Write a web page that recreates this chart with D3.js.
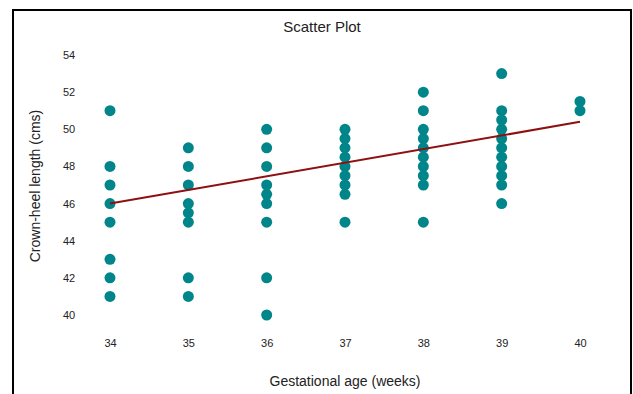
<!DOCTYPE html>
<html>
<head>
<meta charset="utf-8">
<script src="https://cdn.jsdelivr.net/npm/d3@7"></script>
<style>
  body { margin: 0; background: #fff; }
  svg text { font-family: "Liberation Sans", Arial, sans-serif; fill: #222; }
</style>
</head>
<body>
<div id="chart"></div>
<script>
// gestational age (weeks) and crown-heel lengths read per week
var weeks = [34, 35, 36, 37, 38, 39, 40];
var len34 = [51, 48, 47, 46, 45, 43, 42, 41];
var len35 = [49, 48, 47, 46, 45.5, 45, 42, 41];
var len36 = [50, 49, 48, 47, 46.5, 46, 45, 42, 40];
var len37 = [50, 49.5, 49, 48.5, 48, 47.5, 47, 46.5, 45];
var len38 = [52, 51, 50, 49.5, 49, 48.5, 48, 47.5, 47, 45];
var len39 = [53, 51, 50.5, 50, 49.5, 49, 48.5, 48, 47.5, 47, 46];
var len40 = [51.5, 51];
var yTicks = [40, 42, 44, 46, 48, 50, 52, 54];
// trend line ends
var trendX = [34, 40];
var trendY = [46.0, 50.4];

var lengths = [len34, len35, len36, len37, len38, len39, len40];
var points = [];
for (var i = 0; i < weeks.length; i++) {
	for (var j = 0; j < lengths[i].length; j++) {
		points.push({ week: weeks[i], len: lengths[i][j] });
	}
}

var width = 633;
var height = 394;

var svg = d3.select("#chart").append("svg")
	.attr("width", width)
	.attr("height", height);

// frame
svg.append("rect")
	.attr("x", 13)
	.attr("y", 10)
	.attr("width", 618)
	.attr("height", 400)
	.attr("fill", "none")
	.attr("stroke", "#000")
	.attr("stroke-width", 2);

var x = d3.scaleLinear().domain([34, 40]).range([110, 580]);
var y = d3.scaleLinear().domain([40, 54]).range([315, 55]);

// axes without lines
var xAxis = svg.append("g")
	.attr("transform", "translate(0,343)")
	.call(d3.axisBottom(x).tickValues(weeks).tickFormat(d3.format("d")).tickSize(0).tickPadding(0));
xAxis.select(".domain").remove();
xAxis.selectAll("text")
	.attr("dy", "0.35em")
	.style("font-size", "11px")
	.style("font-family", "Liberation Sans, Arial, sans-serif")
	.attr("fill", "#222");

var yAxis = svg.append("g")
	.attr("transform", "translate(63,0)")
	.call(d3.axisLeft(y).tickValues(yTicks).tickFormat(d3.format("d")).tickSize(0).tickPadding(0));
yAxis.select(".domain").remove();
yAxis.selectAll("text")
	.attr("text-anchor", "start")
	.style("font-size", "11px")
	.style("font-family", "Liberation Sans, Arial, sans-serif")
	.attr("fill", "#222");

// dots
svg.append("g")
	.selectAll("circle")
	.data(points)
	.enter().append("circle")
	.attr("cx", function(d) { return x(d.week); })
	.attr("cy", function(d) { return y(d.len); })
	.attr("r", 5.5)
	.attr("fill", "#00868A");

// trend line
var line = d3.line()
	.x(function(d) { return x(d[0]); })
	.y(function(d) { return y(d[1]); });
svg.append("path")
	.attr("d", line(d3.zip(trendX, trendY)))
	.attr("fill", "none")
	.attr("stroke", "#8E1010")
	.attr("stroke-width", 2);

// titles
svg.append("text")
	.attr("x", 322)
	.attr("y", 32)
	.attr("text-anchor", "middle")
	.style("font-size", "15px")
	.text("Scatter Plot");

svg.append("text")
	.attr("x", 345)
	.attr("y", 386)
	.attr("text-anchor", "middle")
	.style("font-size", "14px")
	.text("Gestational age (weeks)");

svg.append("text")
	.attr("transform", "translate(40,186) rotate(-90)")
	.attr("text-anchor", "middle")
	.style("font-size", "14px")
	.text("Crown-heel length (cms)");
</script>
</body>
</html>
